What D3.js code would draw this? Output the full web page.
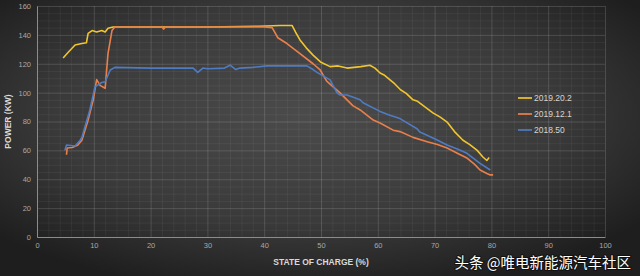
<!DOCTYPE html>
<html>
<head>
<meta charset="utf-8">
<script src="https://cdn.jsdelivr.net/npm/d3@7"></script>
<style>
  html, body { margin: 0; padding: 0; background: #222; }
  svg { display: block; }
</style>
</head>
<body>
<svg width="640" height="276"></svg>
<script>
// firmware versions, as in the legend
const seriesNames = ['2019.20.2', '2019.12.1', '2018.50'];
const seriesColors = ['#f0c52e', '#e9804c', '#4f7bc2'];

// [state of charge %, power kW]
const fw2019_20_2 = [
  [4.6, 124], [5.5, 128], [6.7, 133], [7.9, 134], [8.7, 134.5], [9, 141], [9.7, 143],
  [10.5, 142], [11.4, 143], [12, 142], [12.5, 144.6], [13.4, 145.5], [30, 145.5],
  [39, 146], [42.8, 146.5], [44.9, 146.5], [45.5, 142], [46.3, 136.5], [47.4, 131],
  [48.6, 126], [50, 121], [51.6, 118], [53, 118.5], [54.6, 117], [57, 118], [58.6, 119],
  [59.5, 117], [60.4, 113.6], [61.2, 112], [62.1, 109], [63, 106], [64, 102], [65, 99.5],
  [66.2, 95], [67, 94], [68, 91], [69.7, 86], [71, 83], [72.2, 79.6], [73.5, 73],
  [75, 67], [76.2, 64], [77.5, 60], [78.5, 55.4], [79.2, 53], [79.6, 55]
];
const fw2019_12_1 = [
  [5.2, 57], [5.3, 61.6], [6.2, 62], [7.2, 63.7], [7.9, 67], [9, 81], [9.9, 95],
  [10.5, 109], [11.1, 105], [12, 103], [12.5, 127], [13.2, 143], [13.7, 145.5],
  [22, 145.5], [22.3, 144], [22.6, 145.5], [40, 145.5], [41.4, 145], [42.4, 138],
  [44, 134], [46.3, 127], [48.6, 120], [49.8, 116], [51, 108], [53.3, 100], [55.6, 91],
  [56.9, 88], [59.2, 81], [60.4, 79], [62.7, 74], [63.9, 73], [66.2, 69], [68.7, 66],
  [70.5, 64], [72.2, 61.6], [74, 58], [75.7, 54.7], [77, 50.5], [78, 46.4], [79.2, 44],
  [79.8, 43], [80.3, 43]
];
const fw2018_50 = [
  [4.9, 60], [5.2, 63.7], [6.7, 63], [7.6, 67], [7.9, 69], [9.3, 88], [10.2, 104],
  [11.4, 107], [12, 107.5], [12.9, 115.7], [13.7, 117.5], [20, 117], [27.5, 117],
  [28.3, 114], [29.2, 117], [30, 116.5], [33, 117], [34, 119], [35, 116], [35.7, 117],
  [38, 117.5], [40.5, 118.5], [47.5, 118.5], [48.6, 116], [49.3, 114], [51.6, 108.8],
  [52.8, 100], [53.3, 98.4], [54.6, 98.4], [56.9, 95], [57.4, 93], [60.4, 87],
  [62, 84.5], [63.9, 82], [66.9, 75], [67.4, 72.7], [70, 68], [72.2, 63.7], [74, 61],
  [75.7, 58], [78, 51], [79.8, 46.4]
];
const allSeries = [fw2019_20_2, fw2019_12_1, fw2018_50];

const xTicks = [0, 10, 20, 30, 40, 50, 60, 70, 80, 90, 100];
const yTicks = [0, 20, 40, 60, 80, 100, 120, 140, 160];

const W = 640, H = 276;
const margin = {top: 6, right: 35, bottom: 39, left: 37};

const svg = d3.select('svg');

// dark radial background
const defs = svg.append('defs');
const bg = defs.append('radialGradient').attr('id', 'bg')
  .attr('cx', '48%').attr('cy', '42%').attr('r', '65%');
bg.append('stop').attr('offset', '0%').attr('stop-color', '#4b4b4b');
bg.append('stop').attr('offset', '60%').attr('stop-color', '#3a3a3a');
bg.append('stop').attr('offset', '100%').attr('stop-color', '#1e1e1e');
svg.append('rect').attr('width', W).attr('height', H).attr('fill', 'url(#bg)');

const x = d3.scaleLinear().domain([0, 100]).range([margin.left, W - margin.right]);
const y = d3.scaleLinear().domain([0, 160]).range([H - margin.bottom, margin.top]);

function grid(g, axis, opacity) {
  g.call(axis)
    .call(g => g.select('.domain').remove())
    .call(g => g.selectAll('line').attr('stroke', '#ffffff').attr('stroke-opacity', opacity));
}

// minor grid
svg.append('g').attr('transform', `translate(0,${H - margin.bottom})`)
  .call(grid, d3.axisBottom(x).tickValues(d3.range(0, 101, 2))
    .tickSize(-(H - margin.top - margin.bottom)).tickFormat(''), 0.05);
svg.append('g').attr('transform', `translate(${margin.left},0)`)
  .call(grid, d3.axisLeft(y).tickValues(d3.range(0, 161, 5))
    .tickSize(-(W - margin.left - margin.right)).tickFormat(''), 0.05);

// major grid
svg.append('g').attr('transform', `translate(0,${H - margin.bottom})`)
  .call(grid, d3.axisBottom(x).tickValues(xTicks)
    .tickSize(-(H - margin.top - margin.bottom)).tickFormat(''), 0.1);
svg.append('g').attr('transform', `translate(${margin.left},0)`)
  .call(grid, d3.axisLeft(y).tickValues(yTicks)
    .tickSize(-(W - margin.left - margin.right)).tickFormat(''), 0.1);

// axes
const xAxis = svg.append('g')
  .attr('transform', `translate(0,${H - margin.bottom})`)
  .call(d3.axisBottom(x).tickValues(xTicks).tickSize(0).tickPadding(6));
const yAxis = svg.append('g')
  .attr('transform', `translate(${margin.left},0)`)
  .call(d3.axisLeft(y).tickValues(yTicks).tickSize(0).tickPadding(6));
[xAxis, yAxis].forEach(a => {
  a.select('.domain').attr('stroke', '#8c8c8c').attr('stroke-width', 1);
  a.selectAll('text').attr('fill', '#a8a8a8')
    .style('font-family', 'Liberation Sans, Arial, sans-serif').style('font-size', '7.5px');
});

// axis titles
svg.append('text')
  .attr('x', (x(0) + x(100)) / 2).attr('y', 265)
  .attr('text-anchor', 'middle')
  .attr('fill', '#d9d9d9')
  .style('font-family', 'Liberation Sans, Arial, sans-serif')
  .style('font-size', '8.5px').style('font-weight', 'bold')
  .text('STATE OF CHARGE (%)');
svg.append('text')
  .attr('transform', `translate(11,${(y(0) + y(160)) / 2}) rotate(-90)`)
  .attr('text-anchor', 'middle')
  .attr('fill', '#d9d9d9')
  .style('font-family', 'Liberation Sans, Arial, sans-serif')
  .style('font-size', '8.5px').style('font-weight', 'bold')
  .text('POWER (KW)');

// curves
const line = d3.line().x(d => x(d[0])).y(d => y(d[1]));
svg.append('g').selectAll('path')
  .data(allSeries)
  .join('path')
  .attr('d', line)
  .attr('fill', 'none')
  .attr('stroke', (d, i) => seriesColors[i])
  .attr('stroke-width', 1.6)
  .attr('stroke-linejoin', 'round');

// legend
const legend = svg.append('g').selectAll('g')
  .data(seriesNames)
  .join('g')
  .attr('transform', (d, i) => `translate(518,${98 + i * 16})`);
legend.append('line')
  .attr('x1', 0).attr('x2', 14)
  .attr('stroke', (d, i) => seriesColors[i]).attr('stroke-width', 1.7);
legend.append('text')
  .attr('x', 16).attr('dy', '0.35em')
  .attr('fill', '#d4d4d4')
  .style('font-family', 'Liberation Sans, Arial, sans-serif').style('font-size', '8.5px')
  .text(d => d);

// watermark
svg.append('text')
  .attr('x', 631).attr('y', 268)
  .attr('text-anchor', 'end')
  .attr('fill', '#ffffff')
  .style('font-family', 'Noto Sans CJK SC, sans-serif').style('font-size', '14.5px')
  .style('paint-order', 'stroke').attr('stroke', 'rgba(0,0,0,0.45)').attr('stroke-width', 2)
  .text('头条 @唯电新能源汽车社区');
</script>
</body>
</html>
